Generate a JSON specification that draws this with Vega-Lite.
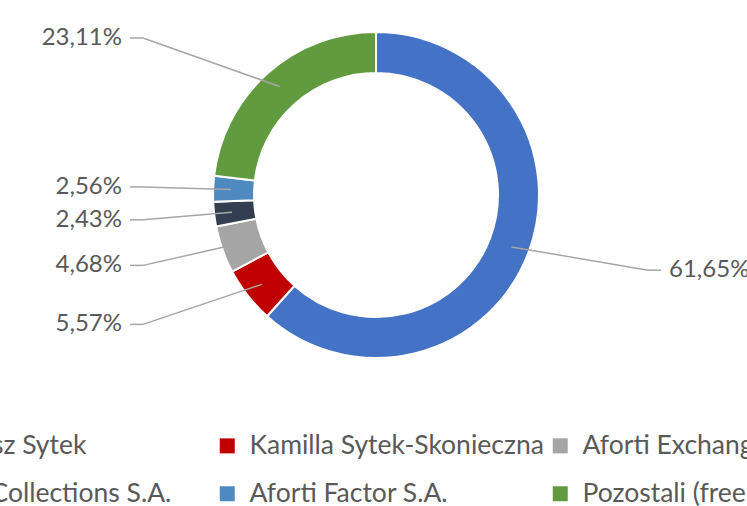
{
  "$schema": "https://vega.github.io/schema/vega-lite/v6.json",
  "width": 742,
  "height": 390,
  "padding": {"left": 5, "top": 0, "right": 0, "bottom": 116},
  "autosize": {"type": "none"},
  "background": "white",
  "config": {"view": {"stroke": null}, "font": "Lato"},
  "data": {
    "values": [
      {"name": "Mateusz Sytek", "value": 61.65, "label": "61,65%"},
      {"name": "Kamilla Sytek-Skonieczna", "value": 5.57, "label": "5,57%"},
      {"name": "Aforti Exchange S.A.", "value": 4.68, "label": "4,68%"},
      {"name": "Aforti Collections S.A.", "value": 2.43, "label": "2,43%"},
      {"name": "Aforti Factor S.A.", "value": 2.56, "label": "2,56%"},
      {"name": "Pozostali (free float)", "value": 23.11, "label": "23,11%"}
    ]
  },
  "transform": [
    {"window": [{"op": "row_number", "as": "idx"}, {"op": "sum", "field": "value", "as": "cum"}], "frame": [null, 0]},
    {"calculate": "(datum.cum - datum.value / 2) / 100 * 2 * PI", "as": "a"},
    {"calculate": "sin(datum.a) >= 0 ? 1 : -1", "as": "sgn"},
    {"calculate": "145 * sin(datum.a)", "as": "px1"},
    {"calculate": "145 * cos(datum.a)", "as": "py1"},
    {"calculate": "datum.sgn > 0 ? 272 : -233", "as": "px2"},
    {"calculate": "210 * cos(datum.a)", "as": "py2"},
    {"calculate": "datum.px2 + datum.sgn * 13", "as": "px3"},
    {"calculate": "datum.px3 + datum.sgn * 8", "as": "tx"}
  ],
  "layer": [
    {
      "mark": {"type": "arc", "innerRadius": 122, "outerRadius": 163, "stroke": "white", "strokeWidth": 2},
      "encoding": {
        "theta": {"field": "value", "type": "quantitative", "stack": true},
        "order": {"field": "idx", "type": "quantitative"},
        "color": {
          "field": "name",
          "type": "nominal",
          "sort": null,
          "scale": {
            "domain": ["Mateusz Sytek", "Kamilla Sytek-Skonieczna", "Aforti Exchange S.A.", "Aforti Collections S.A.", "Aforti Factor S.A.", "Pozostali (free float)"],
            "range": ["#4472C4", "#C00000", "#A5A5A5", "#333F50", "#4E89BF", "#629B3F"]
          },
          "legend": {
            "title": null,
            "orient": "none",
            "legendX": -124,
            "legendY": 432.5,
            "direction": "horizontal",
            "columns": 3,
            "gridAlign": "all",
            "padding": 0,
            "symbolType": "square",
            "symbolSize": 225,
            "symbolStrokeWidth": 0,
            "labelFontSize": 26.5,
            "labelColor": "#595959",
            "labelFont": "Lato",
            "labelOffset": 9,
            "labelLimit": 0,
            "columnPadding": 3,
            "rowPadding": 21
          }
        }
      }
    },
    {
      "mark": {"type": "rule", "color": "#A6A6A6", "strokeWidth": 1.5},
      "encoding": {
        "x": {"field": "px1", "type": "quantitative", "scale": {"domain": [-371, 371], "nice": false, "zero": false}, "axis": null},
        "y": {"field": "py1", "type": "quantitative", "scale": {"domain": [-195, 195], "nice": false, "zero": false}, "axis": null},
        "x2": {"field": "px2"},
        "y2": {"field": "py2"}
      }
    },
    {
      "mark": {"type": "rule", "color": "#A6A6A6", "strokeWidth": 1.5},
      "encoding": {
        "x": {"field": "px2", "type": "quantitative"},
        "y": {"field": "py2", "type": "quantitative"},
        "x2": {"field": "px3"}
      }
    },
    {
      "transform": [{"filter": "datum.sgn > 0"}],
      "mark": {"type": "text", "align": "left", "baseline": "middle", "fontSize": 24, "color": "#595959", "font": "Lato"},
      "encoding": {
        "x": {"field": "tx", "type": "quantitative"},
        "y": {"field": "py2", "type": "quantitative"},
        "text": {"field": "label"}
      }
    },
    {
      "transform": [{"filter": "datum.sgn < 0"}],
      "mark": {"type": "text", "align": "right", "baseline": "middle", "fontSize": 24, "color": "#595959", "font": "Lato"},
      "encoding": {
        "x": {"field": "tx", "type": "quantitative"},
        "y": {"field": "py2", "type": "quantitative"},
        "text": {"field": "label"}
      }
    }
  ]
}
